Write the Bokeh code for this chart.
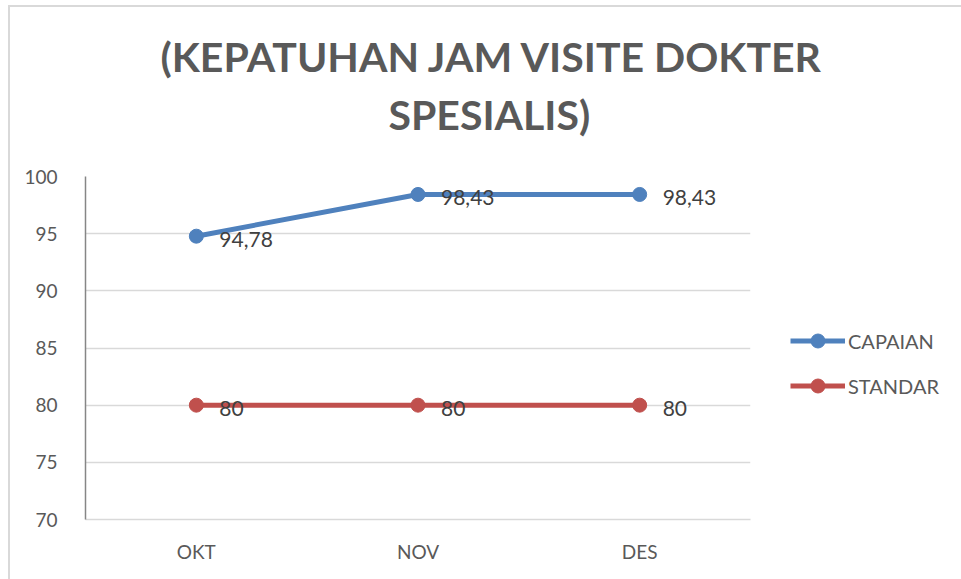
from bokeh.plotting import figure
from bokeh.models import Title, Legend, LegendItem, FixedTicker, ColumnDataSource
from bokeh.core.properties import value
from bokeh.embed import file_html
from bokeh.resources import INLINE

months = ["OKT", "NOV", "DES"]
capaian = [94.78, 98.43, 98.43]
standar = [80, 80, 80]
capaian_labels = ["94,78", "98,43", "98,43"]
standar_labels = ["80", "80", "80"]
y_ticks = [70, 75, 80, 85, 90, 95, 100]

FONT = "Lato"
BLUE = "#4F81BD"
RED = "#C0504D"
GRAY = "#595959"

p = figure(x_range=months, y_range=(70, 100),
           frame_width=665, frame_height=343,
           output_backend="svg", toolbar_location=None, title=None,
           min_border_left=85, min_border_right=211, min_border_top=176,
           min_border_bottom=60)
p.border_fill_color = None
p.background_fill_color = "white"
p.outline_line_color = None
p.styles = {"box-shadow": "inset 8px 5px 0 0 white, inset 10px 7px 0 0 #d9d9d9"}

t2 = Title(text="SPESIALIS)", align="left", offset=303,
           text_font=FONT, text_font_size="41px", text_font_style="bold",
           text_color=GRAY, standoff=75)
t1 = Title(text="(KEPATUHAN JAM VISITE DOKTER", align="left", offset=75,
           text_font=FONT, text_font_size="41px", text_font_style="bold",
           text_color=GRAY, standoff=-61)
p.add_layout(t2, "above")
p.add_layout(t1, "above")

src = ColumnDataSource(dict(x=months, c=capaian, s=standar,
                            cl=capaian_labels, sl=standar_labels))

lc = p.line("x", "c", source=src, line_color=BLUE, line_width=5)
mc = p.scatter("x", "c", source=src, size=14, fill_color=BLUE, line_color=BLUE)
ls = p.line("x", "s", source=src, line_color=RED, line_width=5)
ms = p.scatter("x", "s", source=src, size=14, fill_color=RED, line_color=RED)

for col, ycol in (("cl", "c"), ("sl", "s")):
    p.text("x", ycol, text=col, source=src, x_offset=23, y_offset=3,
           text_font=value(FONT), text_font_size="21px", text_color="#404040",
           text_baseline="middle", text_align="left")

p.yaxis.ticker = FixedTicker(ticks=y_ticks)
p.yaxis.axis_line_color = "#868686"
p.yaxis.axis_line_width = 1.5
p.yaxis.major_tick_line_color = None
p.yaxis.minor_tick_line_color = None
p.yaxis.major_label_standoff = 22
p.yaxis.major_label_text_font = FONT
p.yaxis.major_label_text_font_size = "19px"
p.yaxis.major_label_text_color = GRAY

p.xaxis.axis_line_color = "#d9d9d9"
p.xaxis.axis_line_width = 1.5
p.xaxis.major_tick_line_color = None
p.xaxis.minor_tick_line_color = None
p.xaxis.major_label_standoff = 14
p.xaxis.major_label_text_font = FONT
p.xaxis.major_label_text_font_size = "19px"
p.xaxis.major_label_text_color = GRAY

p.xgrid.grid_line_color = None
p.ygrid.grid_line_color = "#d9d9d9"
p.ygrid.grid_line_width = 1.5

legend = Legend(items=[LegendItem(label="CAPAIAN", renderers=[lc, mc]),
                       LegendItem(label="STANDAR", renderers=[ls, ms])],
                location=(40, 116), orientation="vertical",
                label_text_font=FONT, label_text_font_size="20px",
                label_text_color=GRAY, glyph_width=55, glyph_height=35,
                label_height=35, spacing=10, padding=0, margin=0,
                label_standoff=3, border_line_color=None,
                background_fill_alpha=0)
p.add_layout(legend, "right")

open("out.html", "w").write(file_html(p, INLINE))
